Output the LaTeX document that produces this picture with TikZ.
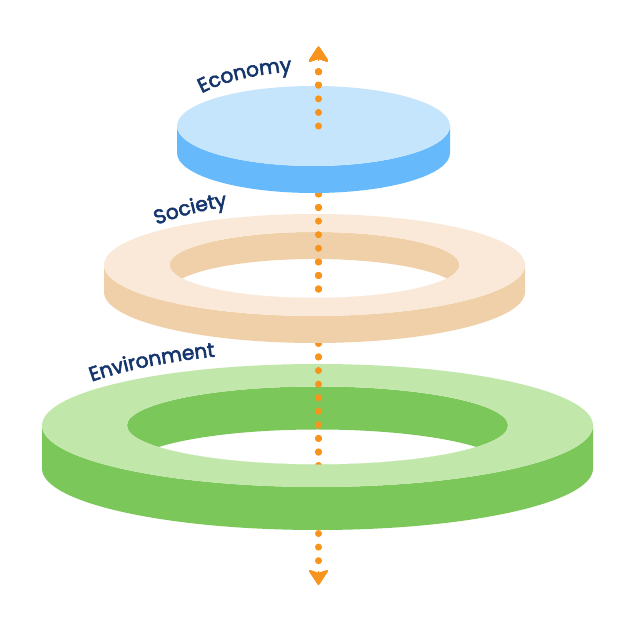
\documentclass[tikz,border=0pt]{standalone}
\usepackage{fontspec}
\usetikzlibrary{arrows.meta,decorations.text}
\newfontfamily\labelfont{Poppins}[FakeBold=2.8,LetterSpace=2]
\definecolor{econtop}{RGB}{197,229,252}
\definecolor{econside}{RGB}{102,186,252}
\definecolor{soctop}{RGB}{250,233,216}
\definecolor{socside}{RGB}{240,208,168}
\definecolor{envtop}{RGB}{193,232,170}
\definecolor{envside}{RGB}{124,199,90}
\definecolor{axisorange}{RGB}{247,148,29}
\definecolor{labelblue}{RGB}{20,53,110}
\newcommand{\labelstyle}{\labelfont\fontsize{14.3}{17}\selectfont}
\newcommand{\drawaxis}{%
  \draw[axisdots] (dottop) -- (dotbot);
  \draw[axistip] (headtop) -- (tiptop);
  \draw[axistip] (headbot) -- (tipbot);
}

\begin{document}
\begin{tikzpicture}[x=0.025cm,y=0.025cm,
  axisdots/.style={axisorange,line width=0.175cm,line cap=round,
    dash pattern=on 0pt off 0.3395cm},
  axistip/.style={axisorange,line width=0.5pt,
    -{Stealth[length=0.42cm,width=0.55cm,inset=0.09cm,round,line width=1.6pt]}},
  ringlabel/.style={decorate,decoration={text along path,text color=labelblue,
    text={|\labelstyle|#1}}}]
  \fill[white] (0,0) rectangle (636,636);
  \useasboundingbox (0,0) rectangle (636,636);

  % axis through the three layers
  \coordinate (dottop) at (318.5,564.3);
  \coordinate (dotbot) at (318.5,75);
  \coordinate (headtop) at (318.5,575);
  \coordinate (tiptop) at (318.5,589.3);
  \coordinate (headbot) at (318.5,65);
  \coordinate (tipbot) at (318.5,51);
  \drawaxis

  % environment
  \fill[envside] (42,210.5) -- (42,167.5) arc (180:360:275.5 and 61.5)
    -- (593,210.5) arc (0:-180:275.5 and 61.5) -- cycle;
  \begin{scope}
    \clip (317.5,210.5) ellipse (190.5 and 39);
    \fill[envside,even odd rule] (317.5,210.5) ellipse (190.5 and 39)
      (317.5,167.5) ellipse (190.5 and 39);
  \end{scope}
  \fill[envtop,even odd rule] (317.5,210.5) ellipse (275.5 and 61.5)
    (317.5,210.5) ellipse (190.5 and 39);
  \begin{scope}
    \clip (0,636) -- (0,210.5) -- (127,210.5) arc (180:360:190.5 and 39)
      -- (636,210.5) -- (636,636) -- cycle;
    \drawaxis
  \end{scope}

  % society
  \fill[socside] (104,371) -- (104,344) arc (180:360:210.5 and 51)
    -- (525,371) arc (0:-180:210.5 and 51) -- cycle;
  \begin{scope}
    \clip (314.5,371) ellipse (145 and 33);
    \fill[socside,even odd rule] (314.5,371) ellipse (145 and 33)
      (314.5,344) ellipse (145 and 33);
  \end{scope}
  \fill[soctop,even odd rule] (314.5,371) ellipse (210.5 and 51)
    (314.5,371) ellipse (145 and 33);
  \begin{scope}
    \clip (0,636) -- (0,371) -- (169.5,371) arc (180:360:145 and 33)
      -- (636,371) -- (636,636) -- cycle;
    \drawaxis
  \end{scope}

  % economy
  \fill[econside] (177,510) -- (177,483) arc (180:360:136.5 and 40)
    -- (450,510) arc (0:-180:136.5 and 40) -- cycle;
  \fill[econtop] (313.5,510) ellipse (136.5 and 40);
  \begin{scope}
    \clip (0,506) rectangle (636,636);
    \drawaxis
  \end{scope}

  % labels
  \path[ringlabel=Environment] (317.5,210.5) ++(143.7:280 and 74) arc (143.7:60:280 and 74);
  \path[ringlabel=Society] (314.5,371) ++(142:200 and 65) arc (142:60:200 and 65);
  \path[ringlabel=Economy] (313.5,510) ++(143.5:139 and 55) arc (143.5:60:139 and 55);
\end{tikzpicture}
\end{document}
